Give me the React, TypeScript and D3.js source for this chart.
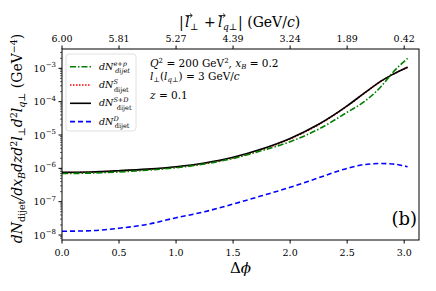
import { line, curveMonotoneX, scaleLinear, scaleLog, range } from 'd3';

const dphi = [0, 0.25, 0.5, 0.75, 1.0, 1.25, 1.5, 1.75, 2.0, 2.25, 2.5, 2.65, 2.8, 2.9, 3.03];
const sumSD = [7.6e-7, 7.8e-7, 8.5e-7, 9.5e-7, 1.12e-6, 1.45e-6, 2.15e-6, 3.8e-6, 7.9e-6, 2.1e-5, 7.5e-5, 1.8e-4, 4.2e-4, 6.6e-4, 1.08e-3];
const ep = [7.0e-7, 7.2e-7, 7.8e-7, 8.8e-7, 1.04e-6, 1.35e-6, 1.98e-6, 3.4e-6, 6.3e-6, 1.5e-5, 4.8e-5, 1.0e-4, 2.9e-4, 7.5e-4, 2.0e-3];
const dPart = [1.3e-8, 1.35e-8, 1.6e-8, 2.1e-8, 3.3e-8, 5.0e-8, 8.5e-8, 1.5e-7, 2.7e-7, 5.2e-7, 1.0e-6, 1.3e-6, 1.4e-6, 1.35e-6, 1.12e-6];
const sPart = sumSD.map((v, i) => v - dPart[i]);

const xTicks = [0, 0.5, 1.0, 1.5, 2.0, 2.5, 3.0];
const topLabels = ['6.00', '5.81', '5.27', '4.39', '3.24', '1.89', '0.42'];
const yExps = [-8, -7, -6, -5, -4, -3];

const W = 436;
const H = 291;
const m = { left: 62, right: 17, top: 49, bottom: 51 };
const font = '"DejaVu Serif", serif';
const yMin = 7.1e-9;
const yMax = 3.8e-3;

const Series = ({ ys, color, dash, x, y }: any) => {
  const pts = dphi.map((d, i) => [d, ys[i]] as [number, number]);
  const path = line<[number, number]>()
    .x((p) => x(p[0]))
    .y((p) => y(p[1]))
    .curve(curveMonotoneX)(pts);
  return <path d={path ?? ''} fill="none" stroke={color} strokeWidth={1.6} strokeDasharray={dash} />;
};

// letter with a small arrow drawn over it
const Vec = ({ x, y, size }: { x: number; y: number; size: number }) => (
  <g>
    <text x={x} y={y} fontSize={size} fontStyle="italic">l</text>
    <line x1={x + 0.5} x2={x + 7} y1={y - size * 0.82} y2={y - size * 0.82} stroke="black" strokeWidth={0.8} />
    <path d={`M${x + 5},${y - size * 0.82 - 2} L${x + 7.3},${y - size * 0.82} L${x + 5},${y - size * 0.82 + 2}`} fill="none" stroke="black" strokeWidth={0.8} />
  </g>
);

export default function App() {
  const x = scaleLinear().domain([0, 3.13]).range([m.left, W - m.right]);
  const y = scaleLog().domain([yMin, yMax]).range([H - m.bottom, m.top]);
  const bottom = H - m.bottom;

  const minor: number[] = [];
  for (let e = -9; e <= -2; e++) {
    range(2, 10).forEach((k) => {
      const v = k * Math.pow(10, e);
      if (v >= yMin && v <= yMax) minor.push(v);
    });
  }

  const legend = [
    { color: 'green', dash: '6,2,1.5,2', sup: 'e+p', sub: 'dijet', subItalic: true },
    { color: 'red', dash: '1.5,1.5', sup: 'S', sub: 'dijet', subItalic: false },
    { color: 'black', dash: undefined, sup: 'S+D', sub: 'dijet', subItalic: false },
    { color: 'blue', dash: '5,3', sup: 'D', sub: 'dijet', subItalic: false },
  ];

  return (
    <svg width={W} height={H} style={{ position: 'absolute', left: 0, top: 0, background: 'white' }} fontFamily={font}>
      {/* curves */}
      <Series ys={dPart} color="blue" dash="5,3" x={x} y={y} />
      <Series ys={sPart} color="red" dash="1.5,1.5" x={x} y={y} />
      <Series ys={sumSD} color="black" x={x} y={y} />
      <Series ys={ep} color="green" dash="6,2,1.5,2" x={x} y={y} />

      {/* frame */}
      <rect x={m.left} y={m.top} width={W - m.left - m.right} height={bottom - m.top} fill="none" stroke="black" strokeWidth={1} />

      {/* bottom axis */}
      {xTicks.map((t) => (
        <g key={`b${t}`} transform={`translate(${x(t)},${bottom})`}>
          <line y2={3.5} stroke="black" />
          <text y={15.5} textAnchor="middle" fontSize={9.5}>{t.toFixed(1)}</text>
        </g>
      ))}
      {/* top axis */}
      {xTicks.map((t, i) => (
        <g key={`t${t}`} transform={`translate(${x(t)},${m.top})`}>
          <line y2={-3.5} stroke="black" />
          <text y={-7} textAnchor="middle" fontSize={9.5}>{topLabels[i]}</text>
        </g>
      ))}
      {/* left axis */}
      {minor.map((v) => (
        <line key={`mn${v}`} x1={m.left} x2={m.left - 2} y1={y(v)} y2={y(v)} stroke="black" strokeWidth={0.6} />
      ))}
      {yExps.map((e) => (
        <g key={`y${e}`} transform={`translate(${m.left},${y(Math.pow(10, e))})`}>
          <line x2={-3.5} stroke="black" />
          <text x={-6} y={3.5} textAnchor="end" fontSize={9.5}>
            10
            <tspan dy={-4.5} fontSize={7}>{`\u2212${-e}`}</tspan>
          </text>
        </g>
      ))}

      {/* axis labels */}
      <text x={(m.left + W - m.right) / 2} y={273} textAnchor="middle" fontSize={15}>
        Δ<tspan fontStyle="italic">ϕ</tspan>
      </text>
      {/* top title */}
      <g fontSize={14}>
        <text x={179} y={27}>|</text>
        <Vec x={185} y={27} size={14} />
        <text x={190} y={30} fontSize={9}>⊥</text>
        <text x={204} y={27}>+</text>
        <Vec x={218} y={27} size={14} />
        <text x={223} y={30} fontSize={9} fontStyle="italic">q⊥</text>
        <text x={238} y={27}>| (GeV/<tspan fontStyle="italic">c</tspan>)</text>
      </g>
      <text transform={`translate(22,${(m.top + bottom) / 2 - 6}) rotate(-90)`} textAnchor="middle" fontSize={14}>
        <tspan fontStyle="italic">dN</tspan><tspan fontSize={9.5} dy={3}>dijet</tspan>
        <tspan dy={-3} fontStyle="italic">/dx</tspan><tspan fontSize={9.5} dy={3} fontStyle="italic">B</tspan>
        <tspan dy={-3} fontStyle="italic">dzd</tspan><tspan fontSize={9.5} dy={-5}>2</tspan>
        <tspan dy={5} fontStyle="italic">l</tspan><tspan fontSize={9.5} dy={3}>⊥</tspan>
        <tspan dy={-3} fontStyle="italic">d</tspan><tspan fontSize={9.5} dy={-5}>2</tspan>
        <tspan dy={5} fontStyle="italic">l</tspan><tspan fontSize={9.5} dy={3} fontStyle="italic">q⊥</tspan>
        <tspan dy={-3}> (GeV</tspan><tspan fontSize={9.5} dy={-5}>−4</tspan><tspan dy={5}>)</tspan>
      </text>

      {/* annotations */}
      <g fontSize={10.5}>
        <text x={150} y={67}>
          <tspan fontStyle="italic">Q</tspan><tspan fontSize={7} dy={-4}>2</tspan>
          <tspan dy={4}> = 200 GeV</tspan><tspan fontSize={7} dy={-4}>2</tspan>
          <tspan dy={4}>, </tspan><tspan fontStyle="italic">x</tspan><tspan fontSize={7} dy={2} fontStyle="italic">B</tspan>
          <tspan dy={-2}> = 0.2</tspan>
        </text>
        <text x={150} y={80}>
          <tspan fontStyle="italic">l</tspan><tspan fontSize={7} dy={2}>⊥</tspan>
          <tspan dy={-2}>(</tspan><tspan fontStyle="italic">l</tspan><tspan fontSize={7} dy={2} fontStyle="italic">q⊥</tspan>
          <tspan dy={-2}>) = 3 GeV/</tspan><tspan fontStyle="italic">c</tspan>
        </text>
        <text x={150} y={99}>
          <tspan fontStyle="italic">z</tspan> = 0.1
        </text>
      </g>
      <text x={417} y={225} textAnchor="end" fontSize={18}>(b)</text>

      {/* legend */}
      <rect x={66} y={54} width={70} height={77} rx={3} fill="white" fillOpacity={0.8} stroke="#d8d8d8" strokeWidth={0.8} />
      {legend.map((l, i) => {
        const ly = 66.7 + i * 18.3;
        return (
          <g key={l.sup}>
            <line x1={70} x2={91} y1={ly} y2={ly} stroke={l.color} strokeWidth={1.6} strokeDasharray={l.dash} />
            <text x={99} y={ly + 3} fontSize={9.5}>
              <tspan fontStyle="italic">dN</tspan>
              <tspan fontSize={6.5} dy={-4} fontStyle="italic">{l.sup}</tspan>
              <tspan fontSize={6.5} dx={-(l.sup.length * 3.9)} dy={7.5} fontStyle={l.subItalic ? 'italic' : 'normal'}>{l.sub}</tspan>
            </text>
          </g>
        );
      })}
    </svg>
  );
}
